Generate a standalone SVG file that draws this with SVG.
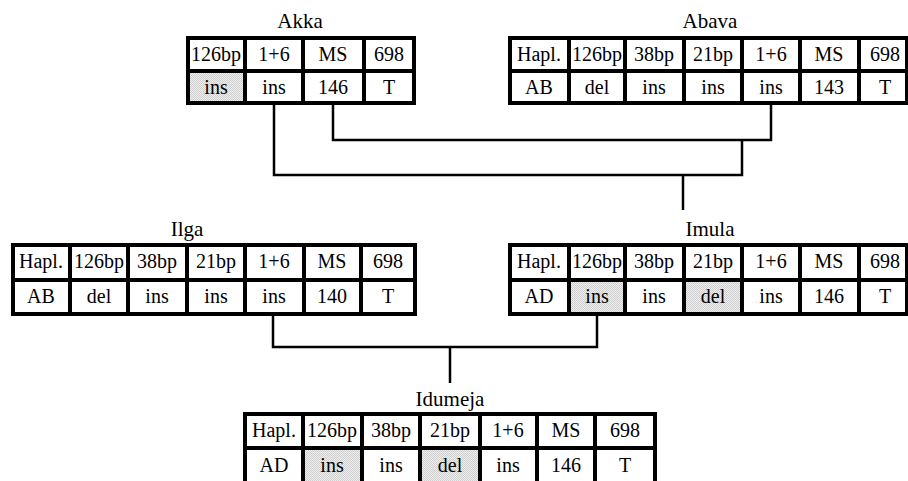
<svg xmlns="http://www.w3.org/2000/svg" width="908" height="481" viewBox="0 0 908 481" font-family="'Liberation Serif', 'Times New Roman', serif">
<defs>
<pattern id="dots" width="2" height="2" patternUnits="userSpaceOnUse">
<rect width="2" height="2" fill="#eeeeee"/>
<rect width="1" height="1" fill="#cfcfcf"/>
<rect x="1" y="1" width="1" height="1" fill="#cfcfcf"/>
</pattern>
</defs>
<style>
text{font-family:'Liberation Serif','Times New Roman',serif;fill:#000;text-anchor:middle}
.t{font-size:21px}
.c{font-size:20px}
.g{stroke:#000;stroke-width:4;fill:none}
.sh{fill:url(#dots)}
.con{stroke:#000;stroke-width:2.5;fill:none}
</style>
<rect width="908" height="481" fill="#fff"/>

<g id="connectors">
<path class="con" d="M274,103 V175 H742 V140"/>
<path class="con" d="M333,103 V140 H771 V103"/>
<path class="con" d="M683,175 V210"/>
<path class="con" d="M273,314 V347 H597 V314"/>
<path class="con" d="M450,347 V383"/>
</g>

<g id="akka">
<text class="t" x="300" y="28">Akka</text>
<rect class="sh" x="190" y="73" width="53" height="28"/>
<rect class="g" x="188" y="38" width="226" height="65"/>
<path class="g" d="M188,71 H414 M245,38 V103 M303,38 V103 M364,38 V103"/>
<text class="c" x="216" y="61">126bp</text>
<text class="c" x="274" y="61">1+6</text>
<text class="c" x="333" y="61">MS</text>
<text class="c" x="389" y="61">698</text>
<text class="c" x="216" y="94">ins</text>
<text class="c" x="274" y="94">ins</text>
<text class="c" x="333" y="94">146</text>
<text class="c" x="389" y="94">T</text>
</g>

<g id="abava">
<text class="t" x="710" y="28">Abava</text>
<rect class="g" x="510" y="38" width="397" height="65"/>
<path class="g" d="M510,71 H907 M569,38 V103 M625,38 V103 M684,38 V103 M742,38 V103 M800,38 V103 M859,38 V103"/>
<text class="c" x="539" y="61">Hapl.</text>
<text class="c" x="597" y="61">126bp</text>
<text class="c" x="654" y="61">38bp</text>
<text class="c" x="713" y="61">21bp</text>
<text class="c" x="771" y="61">1+6</text>
<text class="c" x="829" y="61">MS</text>
<text class="c" x="885" y="61">698</text>
<text class="c" x="539" y="94">AB</text>
<text class="c" x="597" y="94">del</text>
<text class="c" x="654" y="94">ins</text>
<text class="c" x="713" y="94">ins</text>
<text class="c" x="771" y="94">ins</text>
<text class="c" x="829" y="94">143</text>
<text class="c" x="885" y="94">T</text>
</g>

<g id="ilga">
<text class="t" x="187" y="236">Ilga</text>
<rect class="g" x="13" y="245" width="402" height="69"/>
<path class="g" d="M13,280 H415 M70,245 V314 M128,245 V314 M187,245 V314 M245,245 V314 M304,245 V314 M361,245 V314"/>
<text class="c" x="41" y="268">Hapl.</text>
<text class="c" x="99" y="268">126bp</text>
<text class="c" x="157" y="268">38bp</text>
<text class="c" x="216" y="268">21bp</text>
<text class="c" x="274" y="268">1+6</text>
<text class="c" x="332" y="268">MS</text>
<text class="c" x="388" y="268">698</text>
<text class="c" x="41" y="303">AB</text>
<text class="c" x="99" y="303">del</text>
<text class="c" x="157" y="303">ins</text>
<text class="c" x="216" y="303">ins</text>
<text class="c" x="274" y="303">ins</text>
<text class="c" x="332" y="303">140</text>
<text class="c" x="388" y="303">T</text>
</g>

<g id="imula">
<text class="t" x="710" y="236">Imula</text>
<rect class="sh" x="571" y="282" width="52" height="30"/>
<rect class="sh" x="686" y="282" width="54" height="30"/>
<rect class="g" x="510" y="245" width="397" height="69"/>
<path class="g" d="M510,280 H907 M569,245 V314 M625,245 V314 M684,245 V314 M742,245 V314 M800,245 V314 M859,245 V314"/>
<text class="c" x="539" y="268">Hapl.</text>
<text class="c" x="597" y="268">126bp</text>
<text class="c" x="654" y="268">38bp</text>
<text class="c" x="713" y="268">21bp</text>
<text class="c" x="771" y="268">1+6</text>
<text class="c" x="829" y="268">MS</text>
<text class="c" x="885" y="268">698</text>
<text class="c" x="539" y="303">AD</text>
<text class="c" x="597" y="303">ins</text>
<text class="c" x="654" y="303">ins</text>
<text class="c" x="713" y="303">del</text>
<text class="c" x="771" y="303">ins</text>
<text class="c" x="829" y="303">146</text>
<text class="c" x="885" y="303">T</text>
</g>

<g id="idumeja">
<text class="t" x="450" y="406">Idumeja</text>
<rect class="sh" x="305" y="450" width="55" height="32"/>
<rect class="sh" x="422" y="450" width="56" height="32"/>
<rect class="g" x="245" y="414" width="410" height="72"/>
<path class="g" d="M245,448 H655 M303,414 V486 M362,414 V486 M420,414 V486 M480,414 V486 M537,414 V486 M595,414 V486"/>
<text class="c" x="274" y="437">Hapl.</text>
<text class="c" x="332" y="437">126bp</text>
<text class="c" x="391" y="437">38bp</text>
<text class="c" x="450" y="437">21bp</text>
<text class="c" x="508" y="437">1+6</text>
<text class="c" x="566" y="437">MS</text>
<text class="c" x="625" y="437">698</text>
<text class="c" x="274" y="472">AD</text>
<text class="c" x="332" y="472">ins</text>
<text class="c" x="391" y="472">ins</text>
<text class="c" x="450" y="472">del</text>
<text class="c" x="508" y="472">ins</text>
<text class="c" x="566" y="472">146</text>
<text class="c" x="625" y="472">T</text>
</g>
</svg>
